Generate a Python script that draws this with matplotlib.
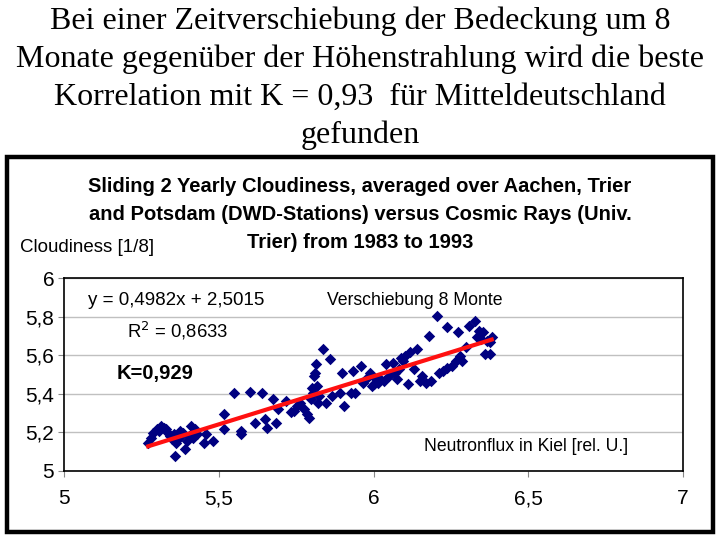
import matplotlib
matplotlib.use('Agg')
import matplotlib.pyplot as plt
from matplotlib.patches import Rectangle
import numpy as np

# neutron flux in Kiel (rel. U.) vs. cloudiness (1/8)
flux = [5.272, 5.281, 5.288, 5.299, 5.308, 5.315, 5.322, 5.329, 5.336, 5.342,
        5.349, 5.356, 5.363, 5.359, 5.370, 5.376, 5.383, 5.390, 5.397, 5.404,
        5.410, 5.417, 5.424, 5.431, 5.451, 5.458, 5.481, 5.516, 5.516, 5.549,
        5.571, 5.573, 5.601, 5.617, 5.639, 5.648, 5.655, 5.675, 5.685, 5.693,
        5.716, 5.734, 5.743, 5.753, 5.764, 5.777, 5.784, 5.791, 5.798, 5.802,
        5.804, 5.808, 5.811, 5.815, 5.818, 5.821, 5.825, 5.838, 5.848, 5.859,
        5.865, 5.893, 5.897, 5.906, 5.927, 5.933, 5.940, 5.961, 5.967, 5.978,
        5.988, 5.995, 6.001, 6.008, 6.015, 6.022, 6.035, 6.042, 6.049, 6.063,
        6.069, 6.076, 6.083, 6.090, 6.096, 6.103, 6.110, 6.117, 6.130, 6.141,
        6.151, 6.158, 6.171, 6.178, 6.185, 6.205, 6.212, 6.226, 6.236, 6.239,
        6.253, 6.266, 6.273, 6.280, 6.287, 6.300, 6.307, 6.327, 6.334, 6.341,
        6.348, 6.355, 6.361, 6.368, 6.375, 6.382, 6.375]
cloud = [5.146, 5.172, 5.198, 5.216, 5.207, 5.233, 5.224, 5.216, 5.198, 5.181,
         5.164, 5.190, 5.146, 5.080, 5.172, 5.207, 5.198, 5.112, 5.155, 5.181,
         5.233, 5.172, 5.216, 5.190, 5.146, 5.190, 5.155, 5.297, 5.219, 5.403,
         5.207, 5.190, 5.410, 5.247, 5.403, 5.268, 5.224, 5.371, 5.250, 5.319,
         5.363, 5.306, 5.311, 5.337, 5.354, 5.319, 5.293, 5.276, 5.371, 5.432,
         5.406, 5.493, 5.510, 5.553, 5.441, 5.354, 5.389, 5.631, 5.354, 5.579,
         5.389, 5.406, 5.510, 5.337, 5.406, 5.519, 5.406, 5.545, 5.458, 5.484,
         5.510, 5.441, 5.449, 5.475, 5.458, 5.475, 5.467, 5.553, 5.493, 5.562,
         5.510, 5.475, 5.527, 5.588, 5.571, 5.597, 5.449, 5.614, 5.527, 5.631,
         5.467, 5.493, 5.458, 5.700, 5.467, 5.804, 5.510, 5.519, 5.744, 5.536,
         5.545, 5.571, 5.718, 5.597, 5.571, 5.640, 5.752, 5.778, 5.692, 5.726,
         5.683, 5.718, 5.605, 5.674, 5.605, 5.692, 5.666]

slope, intercept = 0.4982, 2.5015
xticks = [5, 5.5, 6, 6.5, 7]
yticks = [5, 5.2, 5.4, 5.6, 5.8, 6]

headline = ['Bei einer Zeitverschiebung der Bedeckung um 8',
            'Monate gegenüber der Höhenstrahlung wird die beste',
            'Korrelation mit K = 0,93  für Mitteldeutschland',
            'gefunden']
chart_title = ['Sliding 2 Yearly Cloudiness, averaged over Aachen, Trier',
               'and Potsdam (DWD-Stations) versus Cosmic Rays (Univ.',
               'Trier) from 1983 to 1993']

W, H = 720, 540


def fx(px):
    return px / W


def fy(py):
    return 1 - py / H


plt.rcParams['font.family'] = ['Liberation Sans', 'DejaVu Sans']

fig = plt.figure(figsize=(7.2, 5.4), dpi=100)
fig.patch.set_facecolor('white')

for i, line in enumerate(headline):
    fig.text(0.5, fy(21 + i * 38), line, ha='center', va='center',
             fontsize=23, family=['Liberation Serif', 'DejaVu Serif'])

# frame around the chart
fig.patches.append(Rectangle((fx(7), fy(532)), fx(706), 375 / H, transform=fig.transFigure,
                             fill=False, edgecolor='black', linewidth=3.2))

for i, line in enumerate(chart_title):
    fig.text(fx(360), fy(186 + i * 28.5), line, ha='center', va='center',
             fontsize=14.5, fontweight='bold')

fig.text(fx(20), fy(247), 'Cloudiness [1/8]', ha='left', va='center', fontsize=13.5)

ax = fig.add_axes([fx(64), fy(471), fx(683 - 64), (471 - 278) / H])
ax.set_xlim(5, 7)
ax.set_ylim(5, 6)
ax.set_xticks(xticks)
ax.set_yticks(yticks)
ax.set_xticklabels([str(t).replace('.', ',') for t in xticks])
ax.set_yticklabels(['5', '5,2', '5,4', '5,6', '5,8', '6'])
ax.tick_params(axis='x', length=4, width=0.8, color='#888888', pad=9, labelsize=15)
ax.tick_params(axis='y', length=4, width=0.8, color='#888888', pad=3, labelsize=15)
ax.grid(axis='y', color='#c0c0c0', linewidth=1)
ax.set_axisbelow(True)
for s in ax.spines.values():
    s.set_color('black')
    s.set_linewidth(1.2)

ax.scatter(flux, cloud, marker='D', s=34, color='#000080', zorder=3, linewidths=0)
xl = np.array([min(flux), max(flux)])
ax.plot(xl, slope * xl + intercept, color='#ff1010', linewidth=3, zorder=4)

ax.text(0.038, 0.885, 'y = 0,4982x + 2,5015', transform=ax.transAxes, fontsize=13.5, va='center')
ax.text(0.102, 0.725, 'R$^2$ = 0,8633', transform=ax.transAxes, fontsize=13.3, va='center')
ax.text(0.085, 0.505, 'K=0,929', transform=ax.transAxes, fontsize=14.5, fontweight='bold', va='center')
ax.text(0.425, 0.885, 'Verschiebung 8 Monte', transform=ax.transAxes, fontsize=12.7, va='center')
ax.text(0.582, 0.125, 'Neutronflux in Kiel [rel. U.]', transform=ax.transAxes, fontsize=12.7, va='center')

fig.savefig('out.png', dpi=100, facecolor='white')
